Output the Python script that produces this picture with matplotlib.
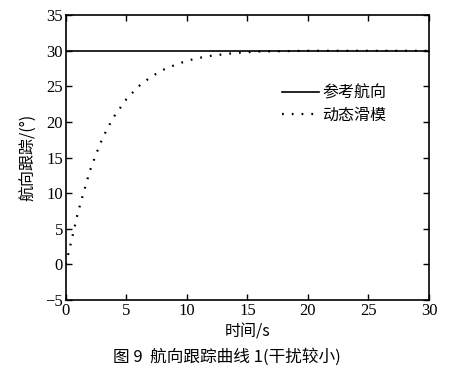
import matplotlib
matplotlib.use("Agg")
import matplotlib.pyplot as plt

# data
t_ref = [0, 30]
ref_heading = [30, 30]
t_smc = [0, 0.5, 1, 1.5, 2, 2.5, 3, 3.5, 4, 5, 6, 7, 8, 9, 10, 11, 12, 13, 14, 15, 16, 18, 20, 25, 30]
smc_heading = [0, 3.6, 7.3, 10.3, 13.2, 15.5, 17.6, 19.3, 20.8, 23.2, 25.0, 26.3, 27.3, 28.0, 28.6,
               29.0, 29.3, 29.5, 29.7, 29.8, 29.9, 29.95, 30, 30, 30]
x_ticks = [0, 5, 10, 15, 20, 25, 30]
y_ticks = [-5, 0, 5, 10, 15, 20, 25, 30, 35]
legend_labels = ["参考航向", "动态滑模"]
xlabel = "时间/s"
ylabel = "航向跟踪/(°)"
caption = "图 9  航向跟踪曲线 1(干扰较小)"

cjk = ["Noto Sans CJK SC", "DejaVu Sans"]
serif = ["Liberation Serif", "DejaVu Serif"]

fig = plt.figure(figsize=(4.54, 3.70), dpi=100)
ax = fig.add_axes([0.145, 0.189, 0.8, 0.77])

ax.plot(t_ref, ref_heading, color="black", lw=1.2, label=legend_labels[0])
ax.plot(t_smc, smc_heading, color="black", lw=1.6, linestyle=(0, (0.8, 3.6)),
        label=legend_labels[1])

ax.set_xlim(0, 30)
ax.set_ylim(-5, 35)
ax.set_xticks(x_ticks)
ax.set_yticks(y_ticks)
ax.tick_params(direction="in", top=True, right=True, length=4, width=1,
               labelsize=12, pad=2)
for lab in ax.get_xticklabels() + ax.get_yticklabels():
    lab.set_family(serif)
for s in ax.spines.values():
    s.set_linewidth(1.2)

ax.set_xlabel(xlabel, family=cjk, fontsize=11.5, labelpad=3)
ax.set_ylabel(ylabel, family=cjk, fontsize=11.5, labelpad=6)

leg = ax.legend(loc="upper right", bbox_to_anchor=(0.9, 0.78), frameon=False,
                prop={"family": cjk, "size": 11.5}, handlelength=2.3, handletextpad=0.2,
                labelspacing=0.35, borderaxespad=0)

fig.text(0.5, 0.012, caption, ha="center", va="bottom", family=cjk, fontsize=12)

fig.savefig("out.png", dpi=100)
